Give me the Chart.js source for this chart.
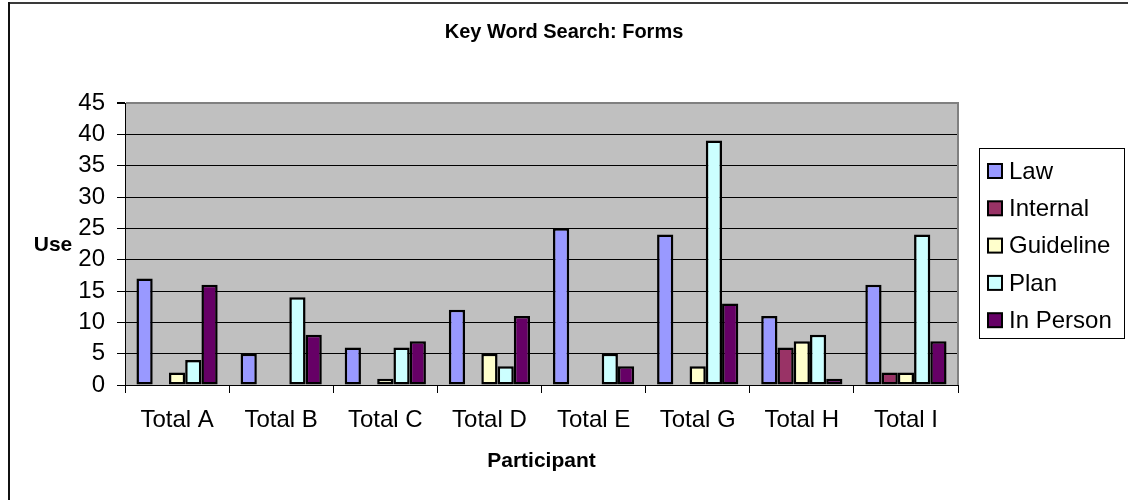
<!DOCTYPE html>
<html>
<head>
<meta charset="utf-8">
<title>Key Word Search: Forms</title>
<script src="https://cdn.jsdelivr.net/npm/chart.js@4/dist/chart.umd.min.js"></script>
<style>
  html, body { margin: 0; padding: 0; background: #fff; }
  #wrap { width: 1128px; height: 500px; position: relative; }
</style>
</head>
<body>
<div id="wrap"><canvas id="formsChart" width="1128" height="500"></canvas></div>
<script>
const participants = ['Total A', 'Total B', 'Total C', 'Total D', 'Total E', 'Total G', 'Total H', 'Total I'];
const law       = [17, 5, 6, 12, 25, 24, 11, 16];
const internal  = [0, 0, 0, 0, 0, 0, 6, 2];
const guideline = [2, 0, 1, 5, 0, 3, 7, 2];
const plan      = [4, 14, 6, 3, 5, 39, 8, 24];
const inPerson  = [16, 8, 7, 11, 3, 13, 1, 7];
const yTicks    = [0, 5, 10, 15, 20, 25, 30, 35, 40, 45];

const chartTitle = 'Key Word Search: Forms';
const FONT = '"Liberation Sans", Arial, sans-serif';

function series(label, data, color) {
    return {
        label: label,
        data: data,
        backgroundColor: color,
        borderColor: '#000',
        borderWidth: 2.5,
        borderSkipped: false,
        categoryPercentage: 0.78,
        barPercentage: 1.0,
    };
}

// grey plot area, right edge, frame, titles and the boxed legend
const excelLook = {
    id: 'excelLook',
    beforeDraw(chart) {
        const { ctx, chartArea: a } = chart;
        ctx.save();
        ctx.fillStyle = '#c0c0c0';
        ctx.fillRect(a.left, a.top, a.right - a.left, a.bottom - a.top);
        ctx.restore();
    },
    afterDraw(chart) {
        const { ctx, chartArea: a } = chart;
        ctx.save();
        // right border of plot area
        ctx.strokeStyle = '#808080';
        ctx.lineWidth = 2;
        ctx.beginPath();
        ctx.moveTo(a.right, a.top - 1);
        ctx.lineTo(a.right, a.bottom);
        ctx.stroke();

        // outer frame
        ctx.fillStyle = '#3a3a3a';
        ctx.fillRect(8, 2, 1120, 2);
        ctx.fillStyle = '#111';
        ctx.fillRect(8, 2, 2, 498);

        // chart title, centred on the whole page
        ctx.fillStyle = '#000';
        ctx.font = 'bold 20px ' + FONT;
        ctx.textAlign = 'center';
        ctx.textBaseline = 'middle';
        ctx.fillText(chartTitle, 564, 32);

        // y axis title, horizontal
        ctx.font = 'bold 21px ' + FONT;
        ctx.fillText('Use', 53, 245);

        // legend
        ctx.strokeStyle = '#000';
        ctx.lineWidth = 1;
        ctx.strokeRect(979.5, 148.5, 145, 190);
        ctx.font = '24px ' + FONT;
        ctx.textAlign = 'left';
        chart.data.datasets.forEach((ds, i) => {
            const y = 171 + i * 37.3;
            ctx.fillStyle = ds.backgroundColor;
            ctx.fillRect(988, y - 7, 14, 14);
            ctx.lineWidth = 2;
            ctx.strokeRect(988, y - 7, 14, 14);
            ctx.fillStyle = '#000';
            ctx.fillText(ds.label, 1009, y + 1);
        });
        ctx.restore();
    }
};

new Chart(document.getElementById('formsChart'), {
    type: 'bar',
    data: {
        labels: participants,
        datasets: [
            series('Law', law, '#9999ff'),
            series('Internal', internal, '#993366'),
            series('Guideline', guideline, '#ffffcc'),
            series('Plan', plan, '#ccffff'),
            series('In Person', inPerson, '#660066'),
        ]
    },
    options: {
        responsive: false,
        animation: false,
        layout: { padding: { left: 0, right: 170, top: 103, bottom: 0 } },
        plugins: {
            legend: { display: false },
            tooltip: { enabled: false },
            title: { display: false }
        },
        scales: {
            x: {
                grid: {
                    offset: true,
                    drawOnChartArea: false,
                    drawTicks: true,
                    tickLength: 8,
                    color: '#000',
                    tickColor: '#000'
                },
                border: { color: '#000', width: 1 },
                ticks: {
                    color: '#000',
                    padding: 13,
                    maxRotation: 0,
                    autoSkip: false,
                    font: { family: FONT, size: 24 }
                },
                title: {
                    display: true,
                    text: 'Participant',
                    color: '#000',
                    font: { family: FONT, size: 21, weight: 'bold' },
                    padding: { top: 0, bottom: 26 }
                },
                afterFit(scale) { scale.height = 115; }
            },
            y: {
                min: 0,
                max: 45,
                afterBuildTicks(scale) { scale.ticks = yTicks.map(v => ({ value: v })); },
                grid: {
                    color: (c) => c.tick && c.tick.value === 45 ? '#808080' : '#000',
                    lineWidth: (c) => c.tick && c.tick.value === 45 ? 2 : 1,
                    tickLength: 8,
                    tickColor: '#000'
                },
                border: { color: '#000', width: 1 },
                ticks: {
                    color: '#000',
                    padding: 12,
                    autoSkip: false,
                    font: { family: FONT, size: 24 }
                },
                afterFit(scale) { scale.width = 125; }
            }
        }
    },
    plugins: [excelLook]
});
</script>
</body>
</html>
